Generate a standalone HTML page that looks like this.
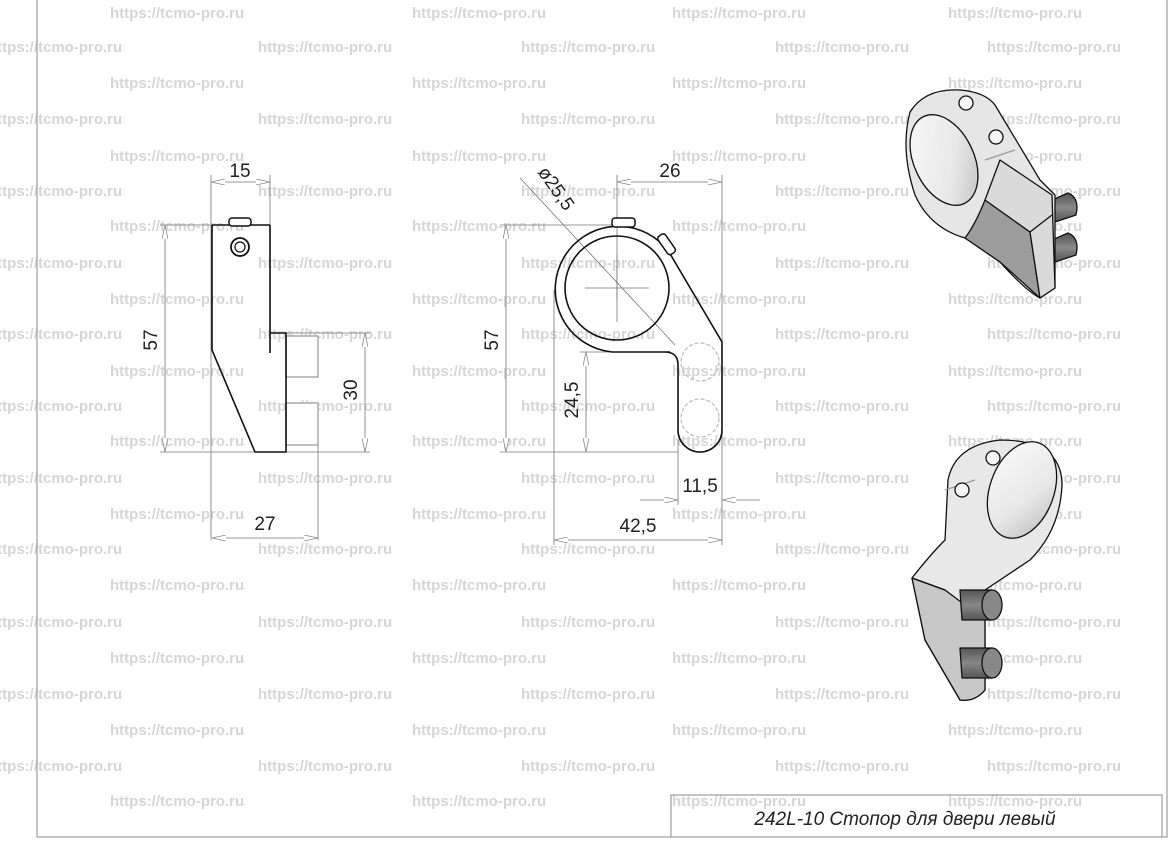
<!DOCTYPE html>
<html><head><meta charset="utf-8"><style>
html,body{margin:0;padding:0;background:#fff;}
svg{display:block;}
.wm{font-family:"Liberation Sans",sans-serif;font-weight:bold;font-size:15px;fill:#d6d6d6;}
.d{font-family:"Liberation Sans",sans-serif;font-size:19px;fill:#222;}
.ln{stroke:#777;stroke-width:0.8;fill:none;}
.ob{stroke:#111;stroke-width:1.6;fill:none;}
</style></head><body>
<svg width="1173" height="846" viewBox="0 0 1173 846" xmlns="http://www.w3.org/2000/svg">
<defs>
<marker id="a" viewBox="0 0 14 6" refX="14" refY="3" markerWidth="14" markerHeight="6" orient="auto-start-reverse" markerUnits="userSpaceOnUse">
<path d="M0,0 L14,3 L0,6" fill="#fff" stroke="#888" stroke-width="0.8"/></marker>
<linearGradient id="hole" x1="0" y1="0" x2="1" y2="1"><stop offset="0" stop-color="#fafafa"/><stop offset="0.6" stop-color="#e8e8e8"/><stop offset="1" stop-color="#bbb"/></linearGradient>
<linearGradient id="pin" x1="0" y1="0" x2="0" y2="1"><stop offset="0" stop-color="#555"/><stop offset="0.5" stop-color="#888"/><stop offset="1" stop-color="#555"/></linearGradient>
</defs>
<g class="wm">
<text x="110" y="18">https://tcmo-pro.ru</text><text x="412" y="18">https://tcmo-pro.ru</text><text x="672" y="18">https://tcmo-pro.ru</text><text x="948" y="18">https://tcmo-pro.ru</text>
<text x="-12" y="52">https://tcmo-pro.ru</text><text x="258" y="52">https://tcmo-pro.ru</text><text x="521" y="52">https://tcmo-pro.ru</text><text x="775" y="52">https://tcmo-pro.ru</text><text x="987" y="52">https://tcmo-pro.ru</text>
<text x="110" y="88">https://tcmo-pro.ru</text><text x="412" y="88">https://tcmo-pro.ru</text><text x="672" y="88">https://tcmo-pro.ru</text><text x="948" y="88">https://tcmo-pro.ru</text>
<text x="-12" y="124">https://tcmo-pro.ru</text><text x="258" y="124">https://tcmo-pro.ru</text><text x="521" y="124">https://tcmo-pro.ru</text><text x="775" y="124">https://tcmo-pro.ru</text><text x="987" y="124">https://tcmo-pro.ru</text>
<text x="110" y="161">https://tcmo-pro.ru</text><text x="412" y="161">https://tcmo-pro.ru</text><text x="672" y="161">https://tcmo-pro.ru</text><text x="948" y="161">https://tcmo-pro.ru</text>
<text x="-12" y="196">https://tcmo-pro.ru</text><text x="258" y="196">https://tcmo-pro.ru</text><text x="521" y="196">https://tcmo-pro.ru</text><text x="775" y="196">https://tcmo-pro.ru</text><text x="987" y="196">https://tcmo-pro.ru</text>
<text x="110" y="231">https://tcmo-pro.ru</text><text x="412" y="231">https://tcmo-pro.ru</text><text x="672" y="231">https://tcmo-pro.ru</text><text x="948" y="231">https://tcmo-pro.ru</text>
<text x="-12" y="268">https://tcmo-pro.ru</text><text x="258" y="268">https://tcmo-pro.ru</text><text x="521" y="268">https://tcmo-pro.ru</text><text x="775" y="268">https://tcmo-pro.ru</text><text x="987" y="268">https://tcmo-pro.ru</text>
<text x="110" y="304">https://tcmo-pro.ru</text><text x="412" y="304">https://tcmo-pro.ru</text><text x="672" y="304">https://tcmo-pro.ru</text><text x="948" y="304">https://tcmo-pro.ru</text>
<text x="-12" y="339">https://tcmo-pro.ru</text><text x="258" y="339">https://tcmo-pro.ru</text><text x="521" y="339">https://tcmo-pro.ru</text><text x="775" y="339">https://tcmo-pro.ru</text><text x="987" y="339">https://tcmo-pro.ru</text>
<text x="110" y="376">https://tcmo-pro.ru</text><text x="412" y="376">https://tcmo-pro.ru</text><text x="672" y="376">https://tcmo-pro.ru</text><text x="948" y="376">https://tcmo-pro.ru</text>
<text x="-12" y="411">https://tcmo-pro.ru</text><text x="258" y="411">https://tcmo-pro.ru</text><text x="521" y="411">https://tcmo-pro.ru</text><text x="775" y="411">https://tcmo-pro.ru</text><text x="987" y="411">https://tcmo-pro.ru</text>
<text x="110" y="446">https://tcmo-pro.ru</text><text x="412" y="446">https://tcmo-pro.ru</text><text x="672" y="446">https://tcmo-pro.ru</text><text x="948" y="446">https://tcmo-pro.ru</text>
<text x="-12" y="483">https://tcmo-pro.ru</text><text x="258" y="483">https://tcmo-pro.ru</text><text x="521" y="483">https://tcmo-pro.ru</text><text x="775" y="483">https://tcmo-pro.ru</text><text x="987" y="483">https://tcmo-pro.ru</text>
<text x="110" y="519">https://tcmo-pro.ru</text><text x="412" y="519">https://tcmo-pro.ru</text><text x="672" y="519">https://tcmo-pro.ru</text><text x="948" y="519">https://tcmo-pro.ru</text>
<text x="-12" y="554">https://tcmo-pro.ru</text><text x="258" y="554">https://tcmo-pro.ru</text><text x="521" y="554">https://tcmo-pro.ru</text><text x="775" y="554">https://tcmo-pro.ru</text><text x="987" y="554">https://tcmo-pro.ru</text>
<text x="110" y="590">https://tcmo-pro.ru</text><text x="412" y="590">https://tcmo-pro.ru</text><text x="672" y="590">https://tcmo-pro.ru</text><text x="948" y="590">https://tcmo-pro.ru</text>
<text x="-12" y="627">https://tcmo-pro.ru</text><text x="258" y="627">https://tcmo-pro.ru</text><text x="521" y="627">https://tcmo-pro.ru</text><text x="775" y="627">https://tcmo-pro.ru</text><text x="987" y="627">https://tcmo-pro.ru</text>
<text x="110" y="663">https://tcmo-pro.ru</text><text x="412" y="663">https://tcmo-pro.ru</text><text x="672" y="663">https://tcmo-pro.ru</text><text x="948" y="663">https://tcmo-pro.ru</text>
<text x="-12" y="699">https://tcmo-pro.ru</text><text x="258" y="699">https://tcmo-pro.ru</text><text x="521" y="699">https://tcmo-pro.ru</text><text x="775" y="699">https://tcmo-pro.ru</text><text x="987" y="699">https://tcmo-pro.ru</text>
<text x="110" y="735">https://tcmo-pro.ru</text><text x="412" y="735">https://tcmo-pro.ru</text><text x="672" y="735">https://tcmo-pro.ru</text><text x="948" y="735">https://tcmo-pro.ru</text>
<text x="-12" y="771">https://tcmo-pro.ru</text><text x="258" y="771">https://tcmo-pro.ru</text><text x="521" y="771">https://tcmo-pro.ru</text><text x="775" y="771">https://tcmo-pro.ru</text><text x="987" y="771">https://tcmo-pro.ru</text>
<text x="110" y="806">https://tcmo-pro.ru</text><text x="412" y="806">https://tcmo-pro.ru</text><text x="672" y="806">https://tcmo-pro.ru</text><text x="948" y="806">https://tcmo-pro.ru</text>
</g>
<path d="M37,0 V837 H1167 V0" stroke="#888" stroke-width="1" fill="none"/>
<rect x="671" y="795" width="491" height="42" fill="none" stroke="#888" stroke-width="1"/>
<text x="905" y="825" text-anchor="middle" style="font-family:'Liberation Sans','DejaVu Sans',sans-serif;font-size:19px;font-style:italic;fill:#222">242L-10 Стопор для двери левый</text>

<!-- LEFT VIEW -->
<g class="ln">
<line x1="211" y1="175" x2="211" y2="540"/><line x1="270" y1="175" x2="270" y2="225"/>
<line x1="211" y1="182" x2="270" y2="182" marker-start="url(#a)" marker-end="url(#a)"/>
<line x1="160" y1="225" x2="270" y2="225"/><line x1="160" y1="452" x2="370" y2="452"/>
<line x1="165" y1="225" x2="165" y2="452" marker-start="url(#a)" marker-end="url(#a)"/>
<line x1="286" y1="333" x2="370" y2="333"/>
<line x1="365" y1="333" x2="365" y2="452" marker-start="url(#a)" marker-end="url(#a)"/>
<line x1="318" y1="445" x2="318" y2="540"/>
<line x1="212" y1="538" x2="318" y2="538" marker-start="url(#a)" marker-end="url(#a)"/>
</g>
<g stroke="#aaa" stroke-width="1.5" fill="#fff">
<rect x="286" y="336" width="32" height="41"/><rect x="286" y="403" width="32" height="42"/>
</g>
<path class="ob" d="M212,225 H270 M212,225 V350 L255,452 H286 V333 H270 M270,225 V353"/>
<rect x="229" y="218" width="22" height="8" rx="3" fill="#fff" stroke="#111" stroke-width="1.5"/>
<circle cx="240" cy="247" r="9" fill="#fff" stroke="#111" stroke-width="1.8"/>
<circle cx="240" cy="247" r="5" fill="none" stroke="#111" stroke-width="1.2"/>
<text class="d" x="240" y="177" text-anchor="middle">15</text>
<text class="d" transform="translate(157,340) rotate(-90)" text-anchor="middle">57</text>
<text class="d" transform="translate(357,390) rotate(-90)" text-anchor="middle">30</text>
<text class="d" x="265" y="530" text-anchor="middle">27</text>

<!-- MIDDLE VIEW -->
<g class="ln">
<line x1="617" y1="175" x2="617" y2="300"/><line x1="722" y1="175" x2="722" y2="545"/>
<line x1="617" y1="182" x2="722" y2="182" marker-start="url(#a)" marker-end="url(#a)"/>
<line x1="500" y1="225" x2="617" y2="225"/><line x1="500" y1="452" x2="678" y2="452"/>
<line x1="506" y1="225" x2="506" y2="452" marker-start="url(#a)" marker-end="url(#a)"/>
<line x1="580" y1="352" x2="670" y2="352"/>
<line x1="586" y1="352" x2="586" y2="452" marker-start="url(#a)" marker-end="url(#a)"/>
<line x1="554" y1="290" x2="554" y2="545"/>
<line x1="554" y1="540" x2="722" y2="540" marker-start="url(#a)" marker-end="url(#a)"/>
<line x1="678" y1="440" x2="678" y2="505"/>
<line x1="640" y1="500" x2="678" y2="500" marker-end="url(#a)"/>
<line x1="760" y1="500" x2="722" y2="500" marker-end="url(#a)"/>
<line x1="520" y1="178" x2="675" y2="345"/>
<line x1="585" y1="288" x2="649" y2="288"/>
<line x1="617" y1="255" x2="617" y2="322"/>
</g>
<path class="ob" d="M670,352 H612 A63,63 0 1 1 669,252 L722,342 V430 A22,22 0 0 1 678,430 V365 Q678,352 665,352"/>
<circle cx="617" cy="288" r="52" class="ob"/>
<circle cx="700" cy="362" r="19" fill="none" stroke="#bbb" stroke-width="1.2" stroke-dasharray="4 2"/>
<circle cx="700" cy="418" r="19" fill="none" stroke="#bbb" stroke-width="1.2" stroke-dasharray="4 2"/>
<rect x="612" y="218" width="23" height="9" rx="3" fill="#fff" stroke="#111" stroke-width="1.5"/>
<rect x="656" y="240" width="22" height="9" rx="3" fill="#fff" stroke="#111" stroke-width="1.5" transform="rotate(55 667 244)"/>
<text class="d" x="670" y="177" text-anchor="middle">26</text>
<text class="d" transform="translate(551,192) rotate(55)" text-anchor="middle">ø25,5</text>
<text class="d" transform="translate(498,340) rotate(-90)" text-anchor="middle">57</text>
<text class="d" transform="translate(578,400) rotate(-90)" text-anchor="middle">24,5</text>
<text class="d" x="700" y="492" text-anchor="middle">11,5</text>
<text class="d" x="638" y="532" text-anchor="middle">42,5</text>

<!-- 3D TOP -->
<g stroke="#111" stroke-width="1.3" stroke-linejoin="round">
<path d="M1052,200 L1068,193 Q1080,198 1076,215 L1055,222 Z" fill="url(#pin)"/>
<path d="M1052,240 L1068,233 Q1080,238 1076,255 L1055,262 Z" fill="url(#pin)"/>
<path d="M910,112 Q925,88 960,90 Q985,92 995,105 L1040,180 L1055,195 V288 L1040,298 Q1025,290 1000,262 L965,238 Q930,228 915,195 Q900,150 910,112 Z" fill="#e6e6e6"/>
<path d="M965,238 Q975,225 985,200 L1030,232 L1040,298 Q1020,280 1000,262 Z" fill="#9c9c9c"/>
<path d="M985,200 L1000,160 L1052,195 L1055,288 L1040,298 L1030,232 Z" fill="#dadada"/>
<path d="M1030,232 L1052,215" fill="none"/>
<path d="M985,160 L1015,150" fill="none" stroke="#999"/>
<ellipse cx="944" cy="160" rx="30" ry="48" transform="rotate(-25 944 160)" fill="url(#hole)"/>
<circle cx="966" cy="103" r="7" fill="#f5f5f5"/><circle cx="996" cy="137" r="7" fill="#f5f5f5"/>
</g>
<!-- 3D BOTTOM -->
<g stroke="#111" stroke-width="1.3" stroke-linejoin="round">
<path d="M948,480 Q955,445 1000,440 Q1062,440 1062,485 Q1060,530 1030,560 L985,590 L985,690 Q975,702 960,700 L925,640 L912,578 Q930,555 945,540 Z" fill="#e8e8e8"/>
<path d="M912,578 L945,590 L985,620 L985,690 Q975,702 960,700 L925,640 Z" fill="#c8c8c8"/>
<path d="M912,578 L945,590" fill="none"/>
<path d="M945,490 L975,480" fill="none" stroke="#999"/>
<ellipse cx="1022" cy="490" rx="32" ry="50" transform="rotate(20 1022 490)" fill="url(#hole)"/>
<path d="M960,590 H992 Q1005,605 992,620 H962 Z" fill="url(#pin)"/>
<ellipse cx="992" cy="605" rx="10" ry="15" fill="#888"/>
<path d="M960,648 H992 Q1005,663 992,678 H962 Z" fill="url(#pin)"/>
<ellipse cx="992" cy="663" rx="10" ry="15" fill="#888"/>
<circle cx="993" cy="458" r="7" fill="#f5f5f5"/><circle cx="962" cy="490" r="7" fill="#f5f5f5"/>
</g>
</svg>
</body></html>
